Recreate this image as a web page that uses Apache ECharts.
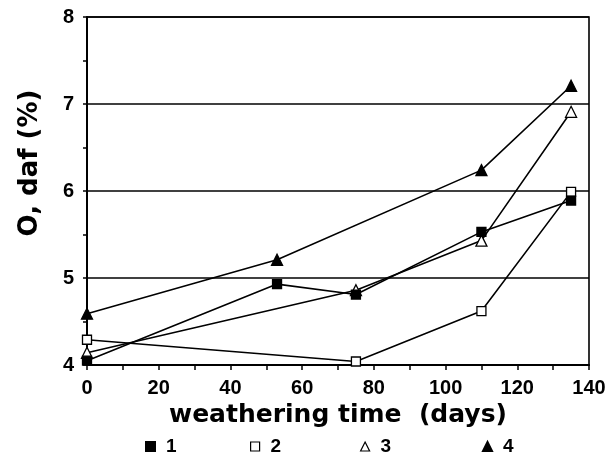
<!DOCTYPE html>
<html>
<head>
<meta charset="utf-8">
<script src="https://cdn.jsdelivr.net/npm/echarts@6/dist/echarts.min.js"></script>
<style>html,body{margin:0;padding:0;background:#fff}#c{width:616px;height:459px}</style>
</head>
<body>
<div id="c"></div>
<script>
const seriesNames = ['1', '2', '3', '4'];
const s1 = [[0, 4.05], [53, 4.93], [75, 4.81], [110, 5.53], [135, 5.89]];
const s2 = [[0, 4.29], [75, 4.04], [110, 4.62], [135, 5.99]];
const s3 = [[0, 4.14], [75, 4.86], [110, 5.43], [135, 6.91]];
const s4 = [[0, 4.59], [53, 5.21], [110, 6.24], [135, 7.21]];
const xTitle = 'weathering time  (days)';
const yTitle = 'O, daf (%)';

const font = 'Liberation Sans, Arial, Helvetica, sans-serif';
const titleFont = 'DejaVu Sans, Liberation Sans, sans-serif';
const chart = echarts.init(document.getElementById('c'), null, {renderer: 'canvas'});
function mk(name, data, symbol, filled) {
  return {
    name: name, type: 'line', data: data, symbol: symbol,
    symbolSize: symbol === 'triangle' ? 11 : 9,
    lineStyle: {color: '#000', width: 1.6},
    itemStyle: {color: filled ? '#000' : '#fff', borderColor: '#000', borderWidth: 1.3},
    z: filled ? 4 : 3
  };
}
const legendStyle = [
  {icon: 'rect', itemStyle: {color: '#000', borderColor: '#000'}},
  {icon: 'rect', itemStyle: {color: '#fff', borderColor: '#000', borderWidth: 1.2}},
  {icon: 'triangle', itemStyle: {color: '#fff', borderColor: '#000', borderWidth: 1.2}},
  {icon: 'triangle', itemStyle: {color: '#000', borderColor: '#000'}}
];
const legendLeft = [145, 250, 360, 482];
const legends = seriesNames.map((n, i) => ({
  left: legendLeft[i], top: 437, padding: 0, itemWidth: 9, itemHeight: 9,
  textStyle: {fontFamily: font, fontSize: 19, fontWeight: 'bold', color: '#000', padding: [0, 0, 0, 6]},
  data: [Object.assign({name: n}, legendStyle[i])]
}));
chart.setOption({
  animation: false,
  backgroundColor: '#fff',
  grid: {left: 87, right: 27, top: 17, bottom: 94, show: true, borderColor: '#000', borderWidth: 1.6},
  legend: legends,
  xAxis: {
    type: 'value', min: 0, max: 140, interval: 20,
    name: xTitle, nameLocation: 'middle', nameGap: 36,
    nameTextStyle: {fontFamily: titleFont, fontSize: 25, fontWeight: 'bold', color: '#000'},
    axisLine: {lineStyle: {color: '#000', width: 2}},
    axisTick: {show: true, length: 5, lineStyle: {color: '#000', width: 1.5}},
    minorTick: {show: true, splitNumber: 2, length: 5, lineStyle: {color: '#000', width: 1.5}},
    axisLabel: {fontFamily: font, fontSize: 20, fontWeight: 'bold', color: '#000', margin: 13},
    splitLine: {show: false}
  },
  yAxis: {
    type: 'value', min: 4, max: 8, interval: 1,
    name: yTitle, nameLocation: 'middle', nameGap: 44, nameRotate: 90,
    nameTextStyle: {fontFamily: titleFont, fontSize: 26, fontWeight: 'bold', color: '#000', padding: [0, 0, 0, 56]},
    axisLine: {lineStyle: {color: '#000', width: 2}},
    axisTick: {show: true, length: 4, lineStyle: {color: '#000', width: 1.5}},
    minorTick: {show: true, splitNumber: 2, length: 4, lineStyle: {color: '#000', width: 1.5}},
    axisLabel: {fontFamily: font, fontSize: 20, fontWeight: 'bold', color: '#000', margin: 13},
    splitLine: {show: true, lineStyle: {color: '#000', width: 1.5}}
  },
  series: [
    mk(seriesNames[0], s1, 'rect', true),
    mk(seriesNames[1], s2, 'rect', false),
    mk(seriesNames[2], s3, 'triangle', false),
    mk(seriesNames[3], s4, 'triangle', true)
  ]
});
</script>
</body>
</html>
